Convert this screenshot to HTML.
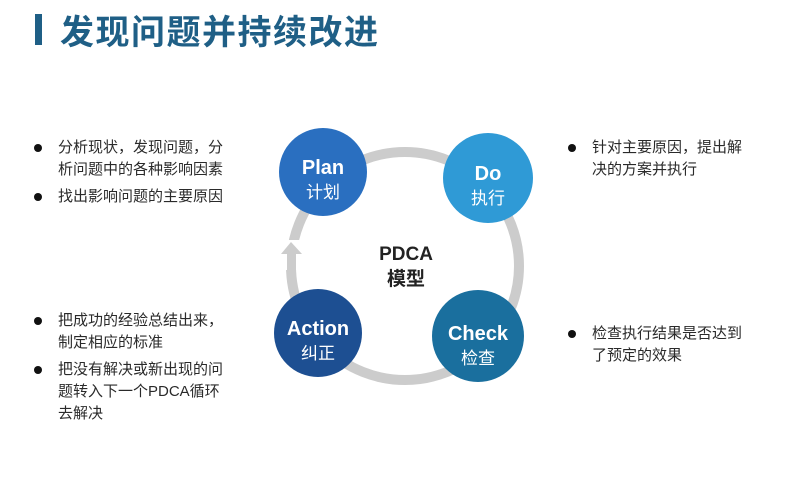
<!DOCTYPE html>
<html><head><meta charset="utf-8"><style>
body{margin:0;width:800px;height:498px;background:#fff;position:relative;overflow:hidden;font-family:"Liberation Sans","Noto Sans CJK SC",sans-serif;}
.t{position:absolute;font-size:15px;color:#2a2a2a;line-height:22px;}
.b{position:absolute;width:8px;height:8px;border-radius:50%;background:#111;}
</style></head><body>
<div style="position:absolute;left:35px;top:14px;width:7px;height:31px;background:#1f5f86"></div>
<div style="position:absolute;left:60px;top:5px;font-size:34px;font-weight:bold;color:#1f5f86;letter-spacing:1.5px;font-family:'Noto Sans CJK SC',sans-serif">发现问题并持续改进</div>

<div class="b" style="left:34px;top:144px"></div>
<div class="t" style="left:58px;top:137px">分析现状，发现问题，分<br>析问题中的各种影响因素</div>
<div class="b" style="left:34px;top:193px"></div>
<div class="t" style="left:58px;top:186px">找出影响问题的主要原因</div>
<div class="b" style="left:34px;top:317px"></div>
<div class="t" style="left:58px;top:310px">把成功的经验总结出来，<br>制定相应的标准</div>
<div class="b" style="left:34px;top:366px"></div>
<div class="t" style="left:58px;top:359px">把没有解决或新出现的问<br>题转入下一个PDCA循环<br>去解决</div>

<div class="b" style="left:568px;top:144px"></div>
<div class="t" style="left:592px;top:137px">针对主要原因，提出解<br>决的方案并执行</div>
<div class="b" style="left:568px;top:330px"></div>
<div class="t" style="left:592px;top:323px">检查执行结果是否达到<br>了预定的效果</div>

<svg width="800" height="498" style="position:absolute;left:0;top:0">
<circle cx="405" cy="266" r="114" fill="none" stroke="#cccccc" stroke-width="10"/>
<rect x="282" y="240" width="20" height="30" fill="#fff"/>
<rect x="287" y="252" width="9" height="30" fill="#cccccc"/>
<polygon points="281,254 291,242 302,254" fill="#cccccc"/>
<circle cx="323" cy="172" r="44" fill="#2a6fc0"/>
<circle cx="488" cy="178" r="45" fill="#2f9ad6"/>
<circle cx="318" cy="333" r="44" fill="#1d4f92"/>
<circle cx="478" cy="336" r="46" fill="#1a6f9e"/>
<g font-family="Liberation Sans, Noto Sans CJK SC, sans-serif" text-anchor="middle" fill="#fff">
<text x="323" y="174" font-size="20" font-weight="bold">Plan</text>
<text x="323" y="198" font-size="17">计划</text>
<text x="488" y="180" font-size="20" font-weight="bold">Do</text>
<text x="488" y="204" font-size="17">执行</text>
<text x="318" y="335" font-size="20" font-weight="bold">Action</text>
<text x="318" y="359" font-size="17">纠正</text>
<text x="478" y="340" font-size="20" font-weight="bold">Check</text>
<text x="478" y="364" font-size="17">检查</text>
</g>
<g font-family="Liberation Sans, Noto Sans CJK SC, sans-serif" text-anchor="middle" fill="#222" font-weight="bold">
<text x="406" y="260" font-size="19">PDCA</text>
<text x="406" y="285" font-size="19">模型</text>
</g>
</svg>
</body></html>
